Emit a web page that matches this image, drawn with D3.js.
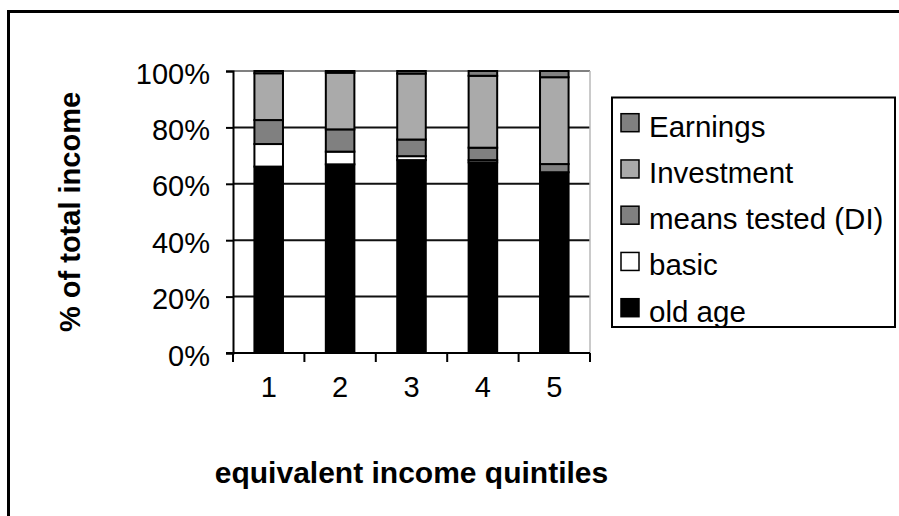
<!DOCTYPE html>
<html>
<head>
<meta charset="utf-8">
<script src="https://cdn.jsdelivr.net/npm/d3@7"></script>
<style>
  html, body { margin: 0; padding: 0; background: #fff; }
  svg { display: block; font-family: "Liberation Sans", Arial, sans-serif; }
</style>
</head>
<body>
<svg id="chart" width="899" height="516"></svg>
<script>
// Income composition by equivalent income quintile (% of total income)
const quintiles = ["1", "2", "3", "4", "5"];
const oldAge      = [66.1, 66.9, 68.4, 67.6, 64.1];
const basic       = [8.0, 4.5, 1.4, 0.8, 0.0];
const meansTested = [8.5, 7.9, 5.9, 4.4, 2.9];
const investment  = [16.6, 20.1, 23.4, 25.5, 30.8];
const earnings    = [0.8, 0.6, 0.9, 1.7, 2.2];
const yTicks = [0, 20, 40, 60, 80, 100];

// stacking order, bottom to top
const seriesKeys   = ["old age", "basic", "means tested (DI)", "Investment", "Earnings"];
const seriesValues = [oldAge, basic, meansTested, investment, earnings];
const seriesColors = ["#000000", "#ffffff", "#808080", "#aaaaaa", "#808080"];

const rows = quintiles.map((q, i) => {
  const r = { q };
  seriesKeys.forEach((k, j) => { r[k] = seriesValues[j][i]; });
  return r;
});

const svg = d3.select("#chart");
const plot = { left: 233, right: 590, top: 71, bottom: 353 };

// outer chart frame (runs off the right and bottom edges)
svg.append("rect")
  .attr("x", 8.5).attr("y", 11.5)
  .attr("width", 1000).attr("height", 600)
  .attr("fill", "none").attr("stroke", "#000").attr("stroke-width", 3);

const x = d3.scaleBand().domain(quintiles)
  .range([plot.left, plot.right]).paddingInner(0.6).paddingOuter(0.3);
const y = d3.scaleLinear().domain([0, 100]).range([plot.bottom, plot.top]);

// gridlines
svg.append("g").selectAll("line")
  .data(yTicks.filter(t => t > 0 && t < 100))
  .join("line")
  .attr("x1", plot.left).attr("x2", plot.right)
  .attr("y1", d => y(d)).attr("y2", d => y(d))
  .attr("stroke", "#111").attr("stroke-width", 2);

// plot area border (top and right)
svg.append("line")
  .attr("x1", plot.left).attr("x2", plot.right)
  .attr("y1", y(100)).attr("y2", y(100))
  .attr("stroke", "#808080").attr("stroke-width", 2);
svg.append("line")
  .attr("x1", plot.right).attr("x2", plot.right)
  .attr("y1", plot.top).attr("y2", plot.bottom)
  .attr("stroke", "#b8b8b8").attr("stroke-width", 1.5);

// stacked bars
const stack = d3.stack().keys(seriesKeys)(rows);
const color = d3.scaleOrdinal().domain(seriesKeys).range(seriesColors);
svg.append("g").selectAll("g")
  .data(stack)
  .join("g")
  .attr("fill", d => color(d.key))
  .selectAll("rect")
  .data(d => d.filter(s => s[1] - s[0] > 0))
  .join("rect")
  .attr("x", d => x(d.data.q))
  .attr("width", x.bandwidth())
  .attr("y", d => y(d[1]))
  .attr("height", d => y(d[0]) - y(d[1]))
  .attr("stroke", "#000").attr("stroke-width", 2);

// y axis
const yAxis = svg.append("g")
  .attr("transform", `translate(${plot.left},0)`)
  .call(d3.axisLeft(y).tickValues(yTicks).tickFormat(d => d + "%").tickSize(7).tickPadding(16));
yAxis.select(".domain").attr("stroke", "#000").attr("stroke-width", 2);
yAxis.selectAll(".tick line").attr("stroke", "#000").attr("stroke-width", 2);
yAxis.selectAll(".tick text")
  .attr("font-size", 29).attr("font-family", "Liberation Sans, Arial, sans-serif")
  .attr("fill", "#000").attr("dy", "0.42em");

// x axis: ticks sit on the category boundaries
const step = x.step();
const boundaries = d3.range(quintiles.length + 1).map(i => plot.left + i * step);
const xAxis = svg.append("g").attr("transform", `translate(0,${plot.bottom})`);
xAxis.append("line")
  .attr("x1", plot.left - 7).attr("x2", plot.right)
  .attr("stroke", "#000").attr("stroke-width", 2);
xAxis.selectAll("line.tk").data(boundaries).join("line")
  .attr("class", "tk")
  .attr("x1", d => d).attr("x2", d => d)
  .attr("y1", 0).attr("y2", 9)
  .attr("stroke", "#000").attr("stroke-width", 2);
xAxis.selectAll("text").data(quintiles).join("text")
  .attr("x", d => x(d) + x.bandwidth() / 2)
  .attr("y", 44)
  .attr("text-anchor", "middle")
  .attr("font-size", 29)
  .text(d => d);

// axis titles
svg.append("text")
  .attr("x", (plot.left + plot.right) / 2).attr("y", 483)
  .attr("text-anchor", "middle")
  .attr("font-size", 30).attr("font-weight", "bold")
  .text("equivalent income quintiles");
svg.append("text")
  .attr("transform", `translate(80,${(plot.top + plot.bottom) / 2}) rotate(-90)`)
  .attr("text-anchor", "middle")
  .attr("font-size", 29).attr("font-weight", "bold")
  .text("% of total income");

// legend, listed top series first
const legend = svg.append("g");
legend.append("rect")
  .attr("x", 612).attr("y", 97.5).attr("width", 283).attr("height", 229.5)
  .attr("fill", "#fff").attr("stroke", "#000").attr("stroke-width", 2);
const legendKeys = seriesKeys.slice().reverse();
const item = legend.selectAll("g.item").data(legendKeys).join("g")
  .attr("class", "item")
  .attr("transform", (d, i) => `translate(0,${136.7 + i * 46.25})`);
item.append("rect")
  .attr("x", 621).attr("y", -23).attr("width", 18).attr("height", 18)
  .attr("fill", d => color(d)).attr("stroke", "#000").attr("stroke-width", 1.5);
item.append("text")
  .attr("x", 649).attr("y", 0)
  .attr("font-size", 29.5)
  .text(d => d);
</script>
</body>
</html>
